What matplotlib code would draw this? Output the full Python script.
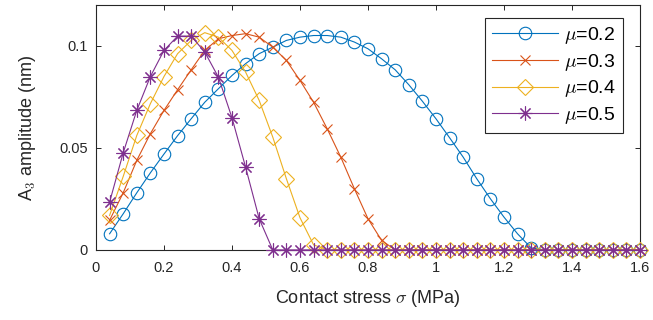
import numpy as np
import matplotlib
matplotlib.use("Agg")
import matplotlib.pyplot as plt
from matplotlib.ticker import FuncFormatter

# contact stress grid (MPa)
stress = np.round(np.arange(1, 41) * 0.04, 2)

# A3 amplitude (nm) for each friction coefficient
amp_mu02 = [0.0079, 0.0177, 0.0280, 0.0378, 0.0470, 0.0560, 0.0643, 0.0724, 0.0790, 0.0855,
            0.0913, 0.0962, 0.0994, 0.1027, 0.1043, 0.1051, 0.1051, 0.1043, 0.1019, 0.0986,
            0.0937, 0.0883, 0.0810, 0.0729, 0.0643, 0.0550, 0.0455, 0.0349, 0.0251, 0.0161,
            0.0079, 0.0010, 0, 0, 0, 0, 0, 0, 0, 0]
amp_mu03 = [0.0145, 0.0280, 0.0439, 0.0570, 0.0684, 0.0785, 0.0883, 0.0978, 0.1035, 0.1051,
            0.1060, 0.1043, 0.0994, 0.0929, 0.0831, 0.0724, 0.0594, 0.0455, 0.0300, 0.0153,
            0.0047, 0, 0, 0, 0, 0, 0, 0, 0, 0,
            0, 0, 0, 0, 0, 0, 0, 0, 0, 0]
amp_mu04 = [0.0169, 0.0360, 0.0561, 0.0717, 0.0850, 0.0962, 0.1027, 0.1065, 0.1043, 0.0978,
            0.0872, 0.0733, 0.0553, 0.0349, 0.0158, 0.0025, 0, 0, 0, 0,
            0, 0, 0, 0, 0, 0, 0, 0, 0, 0,
            0, 0, 0, 0, 0, 0, 0, 0, 0, 0]
amp_mu05 = [0.0234, 0.0476, 0.0684, 0.0850, 0.0978, 0.1048, 0.1048, 0.0970, 0.0847, 0.0648,
            0.0406, 0.0153, 0, 0, 0, 0, 0, 0, 0, 0,
            0, 0, 0, 0, 0, 0, 0, 0, 0, 0,
            0, 0, 0, 0, 0, 0, 0, 0, 0, 0]
labels = [r'$\mu$=0.2', r'$\mu$=0.3', r'$\mu$=0.4', r'$\mu$=0.5']

plt.rcParams['font.family'] = ['Liberation Sans', 'DejaVu Sans']
plt.rcParams['mathtext.fontset'] = 'cm'
dark = '#262626'

fig = plt.figure(figsize=(6.53, 3.2), dpi=100)
ax = fig.add_axes([0.147, 0.219, 0.833, 0.765])

series = [amp_mu02, amp_mu03, amp_mu04, amp_mu05]
colors = ['#0072BD', '#D95319', '#EDB120', '#7E2F8E']
markers = ['o', 'x', 'D', (8, 2, 0)]
msizes = [9, 7, 8, 10]
for ys, c, m, ms, lab in zip(series, colors, markers, msizes, labels):
    ax.plot(stress, ys, color=c, marker=m, markersize=ms, markerfacecolor='none',
            markeredgecolor=c, markeredgewidth=0.8, linewidth=0.8, label=lab,
            clip_on=False, zorder=3)

ax.set_xlim(0, 1.6)
ax.set_ylim(0, 0.12)
ax.set_xticks(np.arange(0, 1.61, 0.2))
ax.set_yticks([0, 0.05, 0.1])
ax.xaxis.set_major_formatter(FuncFormatter(lambda v, p: '%g' % round(v, 2)))
ax.yaxis.set_major_formatter(FuncFormatter(lambda v, p: '%g' % round(v, 2)))
ax.tick_params(direction='in', top=True, right=True, length=3.5, width=0.7,
               color=dark, labelcolor=dark, labelsize=10.5)
ax.tick_params(axis='x', pad=8)
ax.tick_params(axis='y', pad=6)
for s in ax.spines.values():
    s.set_color(dark)
    s.set_linewidth(0.8)

ax.set_xlabel(r'Contact stress $\sigma$ (MPa)', fontsize=13, color=dark, labelpad=9)
ax.set_ylabel(r'A$_{\mathsf{3}}$ amplitude (nm)', fontsize=13, color=dark, labelpad=15)

leg = ax.legend(loc='upper right', bbox_to_anchor=(0.954, 0.944),
                bbox_transform=fig.transFigure, fontsize=14, frameon=True,
                fancybox=False, edgecolor=dark, framealpha=1,
                handlelength=3.4, handletextpad=0.35, labelspacing=0.3,
                borderpad=0.35, borderaxespad=0)
leg.get_frame().set_linewidth(0.8)
leg.set_zorder(5)

fig.savefig('out.png', dpi=100)
